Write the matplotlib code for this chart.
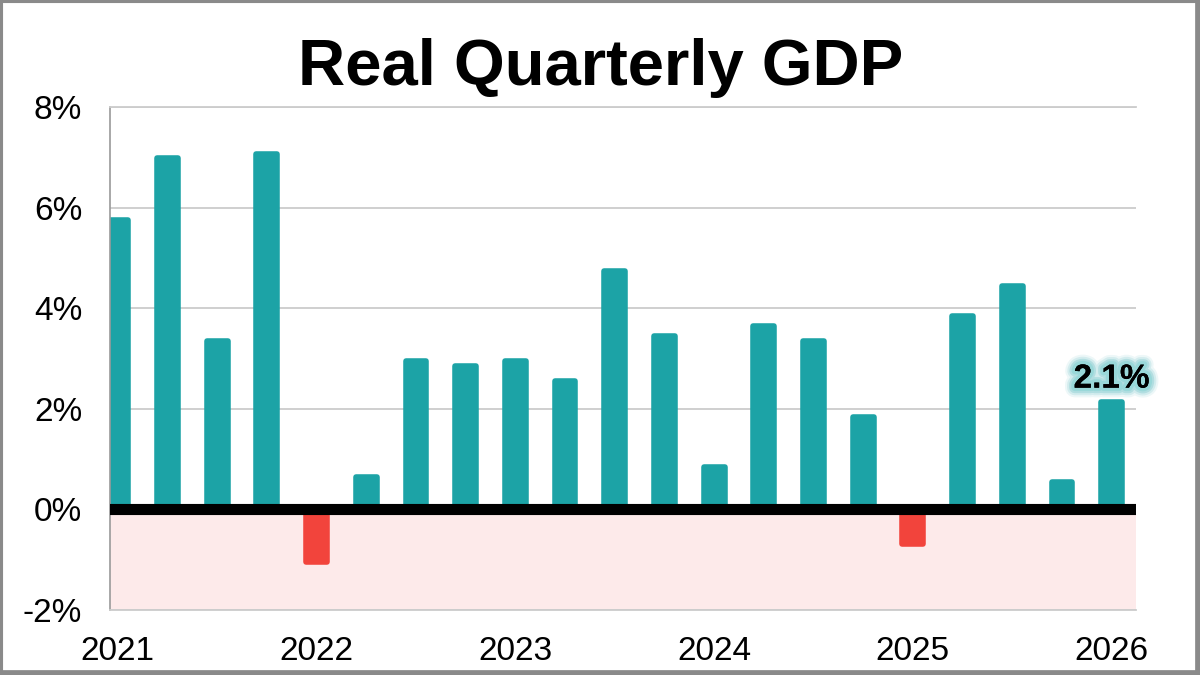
import numpy as np
import matplotlib.pyplot as plt
from matplotlib import patheffects as pe
from matplotlib.patches import Rectangle
from matplotlib.lines import Line2D

plt.rcParams['font.family'] = ['Liberation Sans', 'DejaVu Sans']

# quarterly real GDP growth, annualised (%), 2021 Q1 .. 2026 Q1
gdp = [5.8, 7.05, 3.4, 7.12, -1.1, 0.7, 3.0, 2.9, 3.0, 2.6, 4.8,
       3.5, 0.9, 3.7, 3.4, 1.9, -0.75, 3.9, 4.5, 0.6, 2.2]
year_pos = [0, 4, 8, 12, 16, 20]
year_labels = ['2021', '2022', '2023', '2024', '2025', '2026']
y_ticks = [-2, 0, 2, 4, 6, 8]
y_labels = ['-2%', '0%', '2%', '4%', '6%', '8%']
last_label = '2.1%'

teal = '#1ca3a6'
red = '#f2443c'

fig = plt.figure(figsize=(12, 6.75), dpi=100)
ax = fig.add_axes([110/1200, 65/675, 1026/1200, 503/675])

x = np.arange(len(gdp))
vals = np.array(gdp)
colors = [teal if v >= 0 else red for v in vals]

# rounded corners come from a thick round-joined edge, so shrink the body a bit
lw = 4
inset = 0.055
ax.bar(x, vals - np.sign(vals) * inset, width=0.42, color=colors,
       edgecolor=colors, linewidth=lw, joinstyle='round', zorder=2)

ax.axhspan(-2, 0, color='#fdeaea', zorder=0, lw=0)
ax.axhline(0, color='black', lw=8, zorder=3)

ax.set_xlim(-0.157, 20.49)
ax.set_ylim(-2, 8)
ax.set_yticks(y_ticks)
ax.set_yticklabels(y_labels)
ax.set_xticks(year_pos)
ax.set_xticklabels(year_labels)
ax.tick_params(axis='both', length=0, labelsize=24, colors='black')
ax.tick_params(axis='y', pad=20)
ax.tick_params(axis='x', pad=19)

ax.yaxis.grid(True, color='#cccccc', lw=1.3)
ax.set_axisbelow(True)
ax.spines['right'].set_visible(False)
ax.spines['top'].set_color('#cccccc')
ax.spines['top'].set_linewidth(1.3)
ax.spines['bottom'].set_color('#cccccc')
ax.spines['bottom'].set_linewidth(1.3)
ax.spines['left'].set_color('#9a9a9a')
ax.spines['left'].set_linewidth(1.2)

# label on the latest quarter with a soft teal glow
glow = [pe.withStroke(linewidth=14, foreground=teal, alpha=0.08),
        pe.withStroke(linewidth=11, foreground=teal, alpha=0.12),
        pe.withStroke(linewidth=8, foreground=teal, alpha=0.18),
        pe.withStroke(linewidth=5, foreground='#8fd6d6', alpha=0.7),
        pe.Normal()]
ax.annotate(last_label, (x[-1], gdp[-1]), xytext=(0, 8), textcoords='offset points',
            ha='center', va='baseline', fontsize=24, fontweight='bold',
            color='black', path_effects=glow, zorder=5, annotation_clip=False)

fig.text(601/1200, 1 - 85/675, 'Real Quarterly GDP', ha='center', va='baseline',
         fontsize=47, fontweight='bold')

# grey frame round the picture
fig.patches.append(Rectangle((0, 0), 1, 1, transform=fig.transFigure,
                             fill=False, edgecolor='#8a8a8a', lw=4.4))
fig.lines.append(Line2D([1, 1], [0, 1], transform=fig.transFigure, color='#8a8a8a', lw=7))
fig.lines.append(Line2D([0, 1], [0, 0], transform=fig.transFigure, color='#8a8a8a', lw=7))

fig.savefig('out.png', dpi=100, facecolor='white')
